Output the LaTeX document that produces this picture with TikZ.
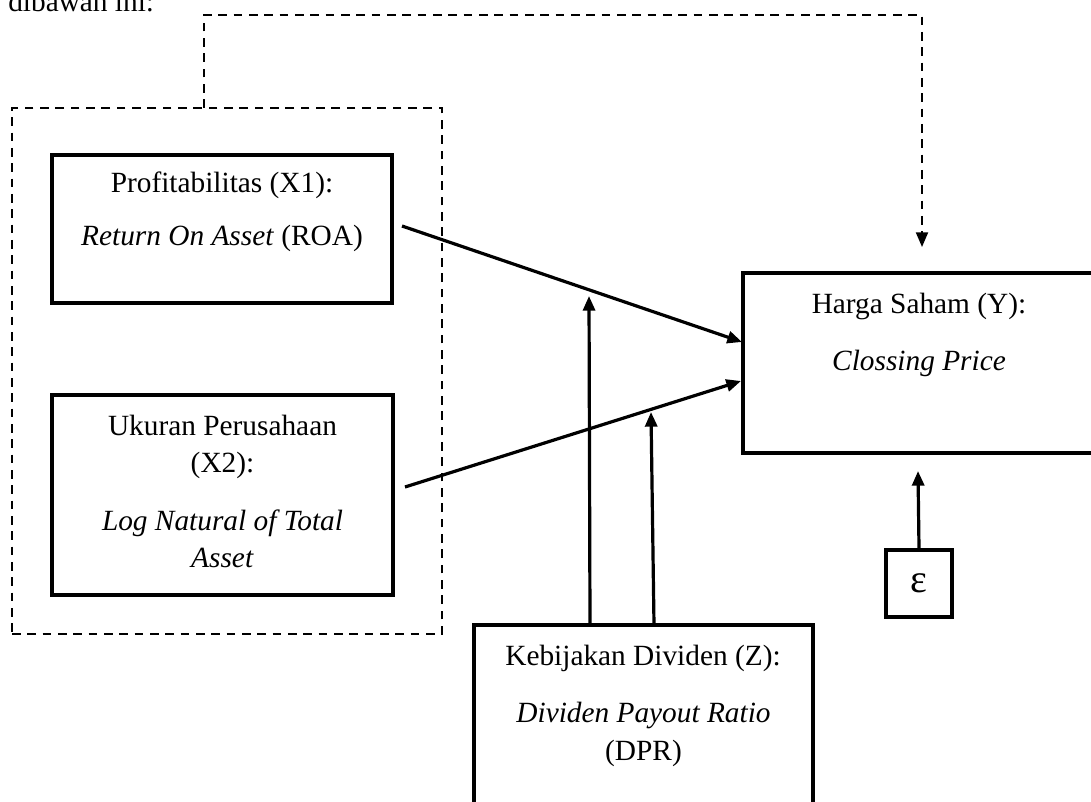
\documentclass[tikz,border=0pt]{standalone}
\usepackage{fontspec}
\setmainfont{Liberation Serif}
\usetikzlibrary{arrows.meta}
\begin{document}
\begin{tikzpicture}[x=0.75pt,y=-0.75pt,
  box/.style={draw, line width=2.4pt, inner sep=0pt},
  grpbox/.style={draw, line width=1.5pt, dash pattern=on 6.5pt off 5pt, inner sep=0pt},
  txt/.style={font=\fontsize{22}{27}\selectfont, inner sep=0pt, anchor=base},
  arr/.style={line width=2.4pt, -{Triangle[length=11pt,width=9pt]}},
  darr/.style={line width=1.5pt, dash pattern=on 6.5pt off 5pt, -{Triangle[length=11pt,width=9pt]}}]
\useasboundingbox (0,0) rectangle (1091,802);

% partial text at the top
\node[txt, anchor=base west] (intro) at (8,12) {dibawah ini:};

% group (dashed)
\node[grpbox, minimum width=322.5pt, minimum height=394.5pt] (grp) at (227,371) {};

% boxes
\node[box, minimum width=255pt, minimum height=111pt] (x1) at (222,229) {};
\node[box, minimum width=255.75pt, minimum height=150pt] (x2) at (222.5,495) {};
\node[box, minimum width=264.75pt, minimum height=135pt] (y) at (919.5,363) {};
\node[box, minimum width=254.25pt, minimum height=153.75pt] (z) at (643.5,727.5) {};
\node[box, minimum width=49.5pt, minimum height=50.25pt] (e) at (919,583.5) {};

% texts
\node[txt] (x1a) at (222,193) {Profitabilitas (X1):};
\node[txt] (x1b) at (222,245) {\textit{Return On Asset} (ROA)};
\node[txt] (x2a) at (222.5,435) {Ukuran Perusahaan};
\node[txt] (x2b) at (222.5,472) {(X2):};
\node[txt] (x2c) at (222.5,530) {\textit{Log Natural of Total}};
\node[txt] (x2d) at (222.5,567) {\textit{Asset}};
\node[txt] (ya) at (919,313) {Harga Saham (Y):};
\node[txt] (yb) at (919,370) {\textit{Clossing Price}};
\node[txt] (za) at (643,665) {Kebijakan Dividen (Z):};
\node[txt] (zb) at (643.5,722) {\textit{Dividen Payout Ratio}};
\node[txt] (zc) at (643.5,760) {(DPR)};
\node[font=\fontsize{30}{34}\selectfont, inner sep=0pt] (eps) at (919,583) {ε};

% connector end points
\coordinate (x1o) at (402,226);
\coordinate (x1i) at (742,342);
\coordinate (x2o) at (405,487);
\coordinate (x2i) at (741,381);
\coordinate (z1) at (590,625);
\coordinate (z1t) at (589,296);
\coordinate (z2) at (654,625);
\coordinate (z2t) at (651,412);
\coordinate (g0) at (204,108);
\coordinate (gt) at (922,247);

\draw[arr] (x1o) -- (x1i);
\draw[arr] (x2o) -- (x2i);
\draw[arr] (z1) -- (z1t);
\draw[arr] (z2) -- (z2t);
\draw[arr] (e.north) -- (918,471);
\draw[darr] (g0) -- (204,15) -- (922,15) -- (gt);
\end{tikzpicture}
\end{document}
